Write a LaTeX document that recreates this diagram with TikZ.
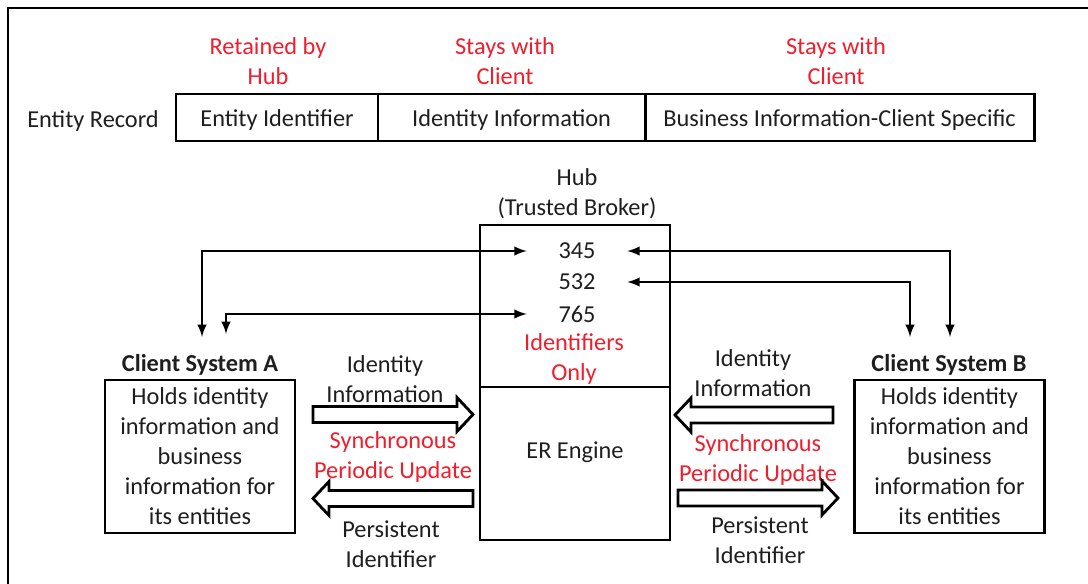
\documentclass[tikz,border=0pt]{standalone}
\usepackage{fontspec}
\setmainfont{Carlito}
\usepackage{xcolor}
\usetikzlibrary{arrows,positioning}
\definecolor{hilite}{RGB}{240,30,45}
\definecolor{ink}{RGB}{30,30,30}

\begin{document}
\begin{tikzpicture}[x=0.025cm,y=-0.025cm,
    font=\fontsize{17.3}{21.3}\selectfont, text=ink,
    box/.style={draw=black, line width=2pt, rectangle, inner sep=0pt, outer sep=0pt},
    cell/.style={box, minimum height=1.175cm, text height=0.56cm, text depth=0.12cm},
    note/.style={align=center, inner sep=0pt, yshift=-0.06cm},
    redlab/.style={note, text=hilite},
    num/.style={minimum width=2.5cm, inner sep=0pt},
    link/.style={<->,>=latex, line width=2pt},
    fat/.style={draw=black, line width=2pt, line join=miter}]
        \useasboundingbox (0,0) rectangle (1088,584);
        \draw[line width=2pt] (8,584) -- (8,8) -- (1088,8);

        % entity record
        \node[note] (rec) at (93,119) {Entity Record};
        \node[cell, minimum width=5.05cm] (c1) at (277,117.5) {Entity Identifier};
        \node[cell, minimum width=6.675cm, right=0pt of c1] (c2) {Identity Information};
        \node[cell, minimum width=9.725cm, right=0pt of c2] (c3) {Business Information-Client Specific};

        \node[redlab] (k1) at (268,59) {Retained by\\Hub};
        \node[redlab] (k2) at (505,59) {Stays with\\Client};
        \node[redlab] (k3) at (836,59) {Stays with\\Client};

        % hub
        \node[note] (hubl) at (577,191.5) {Hub\\(Trusted Broker)};
        \node[box, minimum width=4.75cm, minimum height=4.05cm] (hub) at (575,306) {};
        \node[box, minimum width=4.75cm, minimum height=3.825cm, below=0pt of hub] (er) {};
        \node[note] (ert) at (575,450) {ER Engine};

        \node[num] (n345) at (577,251) {345};
        \node[num] (n532) at (577,282) {532};
        \node[num] (n765) at (577,314) {765};
        \node[redlab] (idonly) at (574,356.5) {Identifiers\\Only};

        % client systems
        \node[note] (labA) at (200,362) {\bfseries Client System A};
        \node[box, minimum width=4.75cm, minimum height=3.825cm, align=center] (sysA) at (200,456.5) {Holds identity\\information and\\business\\information for\\its entities};
        \node[note] (labB) at (949,362) {\bfseries Client System B};
        \node[box, minimum width=4.75cm, minimum height=3.825cm, align=center] (sysB) at (949.5,456.5) {Holds identity\\information and\\business\\information for\\its entities};

        \coordinate (a1) at (202,337);
        \coordinate (a2) at (226,334);
        \coordinate (b1) at (950,337);
        \coordinate (b2) at (910,337);

        \draw[link] (n345.west) -| (a1);
        \draw[link] (n765.west) -| (a2);
        \draw[link] (n345.east) -| (b1);
        \draw[link] (n532.east) -| (b2);

        % flow labels
        \node[note] (inA) at (385,377) {Identity\\Information};
        \node[redlab] (syA) at (393,455) {Synchronous\\Periodic Update};
        \node[note] (pA) at (391,542) {Persistent\\Identifier};
        \node[note] (inB) at (753,371) {Identity\\Information};
        \node[redlab] (syB) at (758,457.5) {Synchronous\\Periodic Update};
        \node[note] (pB) at (760,537.5) {Persistent\\Identifier};

        % block arrows
        \draw[fat] (313,406.5) -- (457,406.5) -- (457,397.5) -- (473,414.5) -- (457,431.5) -- (457,422.5) -- (313,422.5) -- cycle;
        \draw[fat] (473,490.5) -- (329,490.5) -- (329,481.5) -- (313,498.5) -- (329,515.5) -- (329,506.5) -- (473,506.5) -- cycle;
        \draw[fat] (833,407) -- (691,407) -- (691,398) -- (675,415) -- (691,432) -- (691,423) -- (833,423) -- cycle;
        \draw[fat] (678,490) -- (822,490) -- (822,481) -- (838,498) -- (822,515) -- (822,506) -- (678,506) -- cycle;

    \end{tikzpicture}
\end{document}
